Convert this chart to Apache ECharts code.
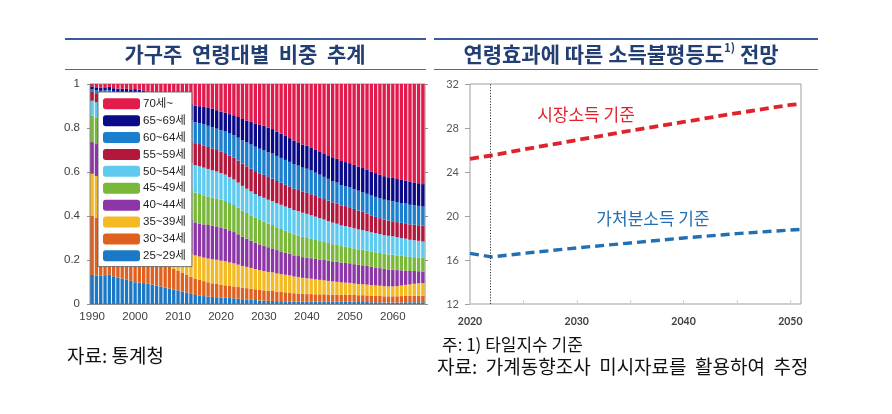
<!DOCTYPE html>
<html>
<head>
<meta charset="utf-8">
<script src="https://cdn.jsdelivr.net/npm/echarts@6/dist/echarts.min.js"></script>
<style>
html,body{margin:0;padding:0;background:#fff;}
#c{width:892px;height:414px;}
</style>
</head>
<body>
<div id="c"></div>
<script>
// ---------- Left chart: household-head age composition ----------
const years = ['1990','1991','1992','1993','1994','1995','1996','1997','1998','1999',
'2000','2001','2002','2003','2004','2005','2006','2007','2008','2009',
'2010','2011','2012','2013','2014','2015','2016','2017','2018','2019',
'2020','2021','2022','2023','2024','2025','2026','2027','2028','2029',
'2030','2031','2032','2033','2034','2035','2036','2037','2038','2039',
'2040','2041','2042','2043','2044','2045','2046','2047','2048','2049',
'2050','2051','2052','2053','2054','2055','2056','2057','2058','2059',
'2060','2061','2062','2063','2064','2065','2066','2067'];

const age25_29 = [.132,.130,.128,.131,.134,.126,.120,.115,.110,.105,
.099,.097,.095,.092,.088,.084,.079,.074,.070,.066,
.062,.057,.052,.046,.041,.038,.036,.034,.032,.031,
.030,.029,.027,.026,.024,.022,.021,.019,.018,.016,
.015,.014,.014,.013,.013,.012,.012,.011,.011,.010,
.010,.010,.010,.010,.010,.010,.010,.010,.010,.010,
.010,.010,.009,.009,.009,.008,.008,.008,.007,.007,
.007,.007,.007,.008,.008,.008,.008,.008];
const age30_34 = [.270,.262,.254,.245,.234,.226,.218,.209,.200,.192,
.185,.174,.162,.150,.137,.125,.115,.106,.099,.094,
.090,.086,.082,.078,.075,.072,.068,.065,.062,.060,
.057,.056,.055,.054,.053,.052,.051,.050,.049,.048,
.047,.046,.045,.043,.042,.041,.040,.038,.037,.036,
.035,.035,.034,.034,.034,.033,.033,.033,.032,.032,
.032,.031,.031,.031,.030,.030,.029,.029,.028,.028,
.028,.028,.029,.029,.029,.030,.030,.030];
const age35_39 = [.190,.190,.191,.192,.193,.194,.195,.196,.197,.198,
.200,.196,.190,.183,.176,.168,.155,.140,.125,.112,
.105,.103,.103,.104,.105,.106,.107,.108,.109,.110,
.110,.109,.107,.105,.102,.099,.097,.095,.092,.090,
.088,.086,.085,.083,.081,.080,.078,.076,.075,.073,
.072,.070,.068,.066,.064,.062,.060,.058,.056,.055,
.054,.052,.051,.050,.049,.048,.047,.046,.046,.045,
.045,.046,.048,.050,.052,.054,.056,.057];
const age40_44 = [.144,.145,.146,.147,.148,.150,.153,.157,.161,.165,
.170,.171,.172,.172,.171,.170,.169,.168,.167,.166,
.165,.162,.158,.154,.150,.150,.151,.152,.152,.152,
.151,.149,.146,.142,.138,.133,.128,.124,.120,.117,
.115,.112,.109,.106,.103,.100,.098,.096,.095,.094,
.093,.093,.093,.092,.092,.092,.091,.091,.090,.090,
.089,.088,.087,.086,.085,.083,.082,.080,.079,.077,
.076,.073,.069,.065,.061,.058,.055,.053];
const age45_49 = [.120,.121,.122,.123,.124,.125,.126,.127,.128,.129,
.130,.132,.134,.136,.138,.140,.141,.141,.141,.140,
.140,.139,.138,.137,.135,.134,.132,.130,.129,.127,
.126,.125,.124,.123,.121,.119,.117,.115,.113,.111,
.110,.108,.106,.104,.102,.100,.098,.096,.094,.092,
.090,.088,.086,.084,.082,.080,.078,.077,.075,.074,
.073,.072,.071,.071,.070,.070,.069,.069,.068,.068,
.068,.067,.066,.065,.064,.063,.063,.062];
const age50_54 = [.068,.069,.070,.072,.074,.076,.078,.080,.082,.084,
.085,.088,.093,.099,.105,.110,.113,.115,.117,.119,
.120,.121,.122,.123,.125,.126,.126,.125,.124,.122,
.121,.120,.118,.116,.114,.112,.110,.109,.108,.108,
.108,.108,.109,.109,.110,.110,.110,.110,.110,.110,
.110,.108,.106,.104,.102,.100,.098,.096,.094,.093,
.092,.091,.090,.089,.088,.087,.087,.086,.085,.085,
.084,.083,.081,.080,.078,.077,.075,.074];
const age55_59 = [.040,.041,.042,.043,.045,.046,.048,.050,.052,.053,
.055,.058,.061,.064,.067,.070,.074,.078,.082,.086,
.090,.093,.096,.098,.100,.101,.101,.100,.099,.098,
.098,.098,.098,.099,.100,.101,.102,.103,.104,.104,
.104,.103,.102,.101,.100,.099,.098,.097,.096,.095,
.095,.095,.094,.094,.093,.093,.092,.092,.091,.091,
.090,.088,.086,.083,.080,.077,.074,.072,.070,.069,
.068,.068,.069,.070,.070,.071,.071,.072];
const age60_64 = [.012,.014,.016,.018,.020,.022,.024,.027,.029,.031,
.033,.036,.039,.042,.046,.050,.058,.067,.075,.083,
.090,.092,.094,.095,.095,.095,.096,.096,.097,.097,
.097,.098,.100,.102,.104,.106,.108,.110,.111,.112,
.113,.113,.114,.114,.113,.113,.112,.112,.111,.110,
.110,.108,.106,.104,.101,.099,.097,.095,.093,.091,
.090,.090,.090,.090,.090,.090,.091,.091,.091,.091,
.091,.091,.090,.090,.089,.088,.088,.087];
const age65_69 = [.013,.013,.014,.014,.015,.016,.017,.018,.019,.019,
.020,.022,.025,.028,.031,.035,.041,.048,.055,.062,
.068,.070,.072,.074,.075,.077,.079,.081,.083,.084,
.085,.086,.088,.091,.094,.097,.100,.103,.106,.108,
.110,.111,.111,.111,.110,.109,.108,.107,.106,.105,
.105,.105,.106,.106,.107,.107,.108,.108,.109,.109,
.110,.110,.110,.109,.109,.108,.108,.107,.107,.106,
.106,.105,.105,.104,.104,.103,.103,.102];
const age70plus = [.014,.016,.016,.017,.016,.022,.023,.024,.025,.027,
.026,.029,.032,.037,.044,.051,.058,.066,.072,.075,
.073,.080,.086,.094,.102,.104,.107,.112,.116,.122,
.128,.133,.140,.145,.153,.162,.169,.175,.182,.189,
.193,.202,.208,.219,.229,.239,.249,.260,.268,.278,
.283,.291,.300,.309,.318,.327,.336,.343,.353,.358,
.363,.371,.378,.385,.393,.402,.408,.415,.422,.427,
.430,.435,.439,.442,.448,.451,.454,.458];

const ageNames = ['25~29세','30~34세','35~39세','40~44세','45~49세','50~54세','55~59세','60~64세','65~69세','70세~'];
const ageData = [age25_29, age30_34, age35_39, age40_44, age45_49, age50_54, age55_59, age60_64, age65_69, age70plus];
const ageColors = ['#1b78c6','#e0601f','#f4ba24','#8c36a7','#7ab83a','#5fcaf0','#b3183c','#1b7fce','#0b0b8a','#e31b4c'];

// ---------- Right chart: inequality projection (Theil index) ----------
const marketIncome = [[2020,25.2],[2022,25.5],[2025,26.05],[2030,26.9],[2035,27.75],[2040,28.55],[2045,29.35],[2050,30.1],[2051,30.2]];
const disposableIncome = [[2020,16.6],[2022,16.28],[2025,16.6],[2030,17.1],[2035,17.55],[2040,18.0],[2045,18.4],[2050,18.72],[2051,18.78]];
const baseYear = 2021.9;

const navy = '#233e72';

const chart = echarts.init(document.getElementById('c'), null, {renderer:'canvas'});

const barSeries = ageNames.map((n,i)=>({
  name:n, type:'bar', stack:'age', xAxisIndex:0, yAxisIndex:0,
  data: ageData[i], barCategoryGap:'22%',
  itemStyle:{color:ageColors[i]}, clip:true, silent:true
}));

const option = {
  animation:false,
  backgroundColor:'#fff',
  grid:[
    {left:90, right:467, top:84, bottom:110, show:true, borderColor:'#8f8f8f', borderWidth:1, backgroundColor:'transparent'},
    {left:470, right:91, top:84, bottom:110, show:true, borderColor:'#9d9d9d', borderWidth:1, backgroundColor:'transparent'}
  ],
  legend:{
    data:['70세~','65~69세','60~64세','55~59세','50~54세','45~49세','40~44세','35~39세','30~34세','25~29세'],
    orient:'vertical', left:98, top:92, padding:[6,6,5,5],
    itemWidth:37, itemHeight:11, itemGap:5.4,
    backgroundColor:'#fff', borderColor:'#555', borderWidth:0.8,
    selectedMode:false,
    textStyle:{fontFamily:"'Liberation Sans', 'Noto Sans CJK KR', sans-serif", fontSize:11.5, color:'#222', lineHeight:11, padding:[0,0,0,-2]}
  },
  xAxis:[
    {type:'category', gridIndex:0, data:years, boundaryGap:true,
     axisLine:{show:true, lineStyle:{color:'#8f8f8f'}}, axisTick:{show:false},
     axisLabel:{interval:9, margin:7, fontSize:11.5, color:'#404040', fontFamily:"'Liberation Sans', sans-serif"}},
    {type:'value', gridIndex:1, min:2020, max:2051, interval:5,
     axisLine:{show:false}, splitLine:{show:false},
     axisTick:{show:true, inside:true, length:4, lineStyle:{color:'#d0d0d0'}},
     axisLabel:{showMaxLabel:false, margin:12, fontSize:10.5, fontWeight:'bold', color:'#404040', fontFamily:"Lato, sans-serif",
       formatter:v=> (v%10===0 ? String(v) : '')}}
  ],
  yAxis:[
    {type:'value', gridIndex:0, min:0, max:1, interval:0.2,
     axisLine:{show:true, lineStyle:{color:'#8f8f8f'}}, splitLine:{show:false},
     axisTick:{show:true, length:3, lineStyle:{color:'#8f8f8f'}},
     axisLabel:{margin:10, fontSize:11.5, color:'#404040', fontFamily:"'Liberation Sans', sans-serif"}},
    {type:'value', gridIndex:0, position:'right', min:0, max:1, interval:0.2,
     axisLine:{show:false}, splitLine:{show:false},
     axisTick:{show:true, length:3, lineStyle:{color:'#8f8f8f'}}, axisLabel:{show:false}},
    {type:'value', gridIndex:1, min:12, max:32, interval:4,
     axisLine:{show:false}, splitLine:{show:false},
     axisTick:{show:true, length:5, lineStyle:{color:'#a0a0a0'}},
     axisLabel:{margin:11, fontSize:11, color:'#595959', fontFamily:"Lato, sans-serif"}}
  ],
  series: barSeries.concat([
    {name:'시장소득 기준', type:'line', xAxisIndex:1, yAxisIndex:2, data:marketIncome,
     symbol:'none', silent:true, lineStyle:{color:'#e0232a', width:3.8, type:[9,5]},
     markLine:{symbol:'none', silent:true, label:{show:false},
       lineStyle:{color:'#333', width:1, type:[1.2,1.6]}, data:[{xAxis:baseYear}]}},
    {name:'가처분소득 기준', type:'line', xAxisIndex:1, yAxisIndex:2, data:disposableIncome,
     symbol:'none', silent:true, lineStyle:{color:'#2270b3', width:3.4, type:[9,5]}}
  ]),
  graphic:[
    // title rules
    {type:'line', shape:{x1:65,y1:39,x2:426,y2:39}, style:{stroke:'#3a5a98', lineWidth:2}},
    {type:'line', shape:{x1:65,y1:69.5,x2:426,y2:69.5}, style:{stroke:'#4a69a6', lineWidth:1.2}},
    {type:'line', shape:{x1:434,y1:39,x2:818,y2:39}, style:{stroke:'#3a5a98', lineWidth:2}},
    {type:'line', shape:{x1:434,y1:69.5,x2:818,y2:69.5}, style:{stroke:'#4a69a6', lineWidth:1.2}},
    // titles
    {type:'text', x:245, y:54, style:{text:'가구주  연령대별  비중  추계', fill:navy, font:"bold 21px 'Noto Sans CJK KR'", textAlign:'center', textVerticalAlign:'middle'}},
    {type:'text', x:621, y:54, style:{text:'{m|연령효과에 따른 소득불평등도}{s|1)}{m| 전망}', textAlign:'center', textVerticalAlign:'middle',
      rich:{m:{fill:navy, fontFamily:'Noto Sans CJK KR', fontWeight:'bold', fontSize:21, lineHeight:24},
            s:{fill:navy, fontFamily:'Noto Sans CJK KR', fontWeight:'bold', fontSize:11.5, lineHeight:12, verticalAlign:'top'}}}},
    // annotations
    {type:'text', x:586, y:115, style:{text:'시장소득 기준', fill:'#e0232a', font:"17px 'Noto Sans CJK KR'", textAlign:'center', textVerticalAlign:'middle'}},
    {type:'text', x:653, y:219, style:{text:'가처분소득 기준', fill:'#2270b3', font:"17px 'Noto Sans CJK KR'", textAlign:'center', textVerticalAlign:'middle'}},
    // sources / notes
    {type:'text', x:67, y:356, style:{text:'자료: 통계청', fill:'#111', font:"19px 'Noto Sans CJK KR'", textAlign:'left', textVerticalAlign:'middle'}},
    {type:'text', x:442, y:345, style:{text:'주: 1) 타일지수 기준', fill:'#111', font:"17px 'Noto Sans CJK KR'", textAlign:'left', textVerticalAlign:'middle'}},
    {type:'text', x:437, y:367, style:{text:'자료:  가계동향조사  미시자료를  활용하여  추정', fill:'#111', font:"19px 'Noto Sans CJK KR'", textAlign:'left', textVerticalAlign:'middle'}}
  ]
};
chart.setOption(option);
</script>
</body>
</html>
